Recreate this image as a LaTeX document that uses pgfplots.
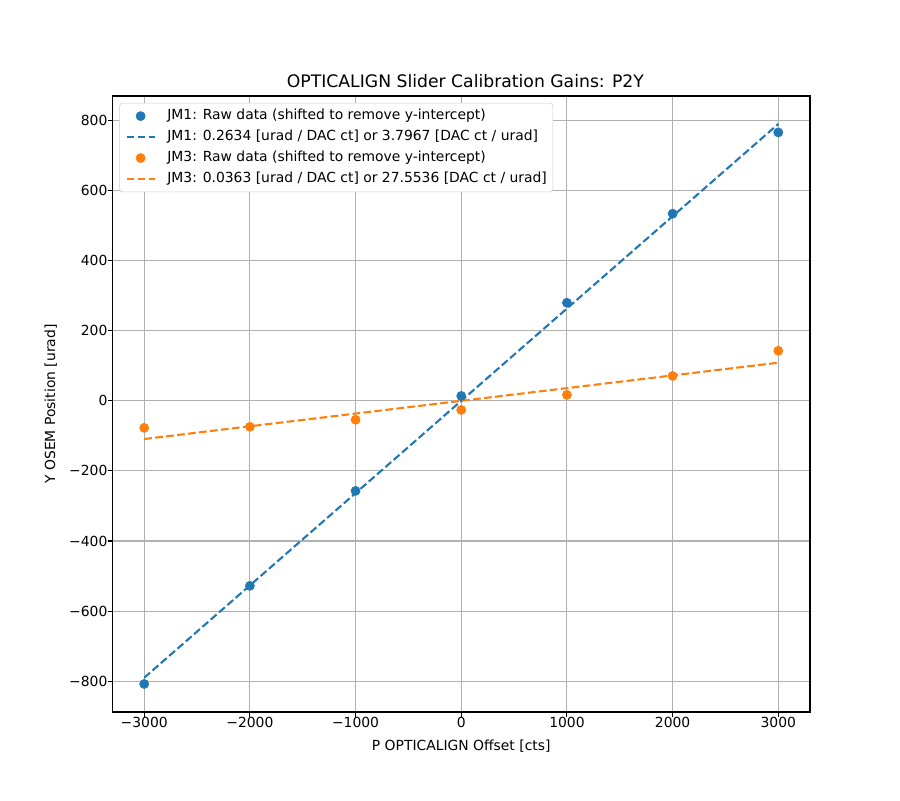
\documentclass[border=0pt]{standalone}
\usepackage{fontspec}
\setmainfont{DejaVu Sans}
\usepackage{pgfplots}
\pgfplotsset{compat=1.18}
\definecolor{tabblue}{HTML}{1F77B4}
\definecolor{taborange}{HTML}{FF7F0E}
\definecolor{gridgray}{HTML}{B0B0B0}
\definecolor{legframe}{HTML}{CCCCCC}
\pgfplotsset{
 scatleg/.style={legend image code/.code={\draw[##1] plot coordinates {(10pt,0pt)};}},
 lineleg/.style={legend image code/.code={\draw[##1] (0pt,0pt) -- (20pt,0pt);}},
}
\begin{document}
\begin{tikzpicture}
\useasboundingbox (-81pt,-63.36pt) rectangle (567pt,512.64pt);
\begin{axis}[
 at={(0,0)}, anchor=south west,
 scale only axis, width=502.2pt, height=443.52pt,
 xmin=-3300, xmax=3300, ymin=-888, ymax=870,
 xtick={-3000,-2000,...,3000},
 xticklabels={−3000,−2000,−1000,0,1000,2000,3000},
 ytick={-800,-600,...,800},
 yticklabels={−800,−600,−400,−200,0,200,400,600,800},
 tick pos=left,
 tick align=outside, major tick length=3.5pt,
 every tick/.style={black, line width=0.8pt},
 axis line style={line width=0.8pt},
 grid=major, major grid style={gridgray, line width=0.8pt},
 tick label style={font=\fontsize{10}{12}\selectfont},
 xticklabel style={anchor=north, inner sep=0pt},
 yticklabel style={anchor=east, inner sep=0pt},
 label style={font=\fontsize{10}{12}\selectfont},
 title style={font=\fontsize{12.4}{14}\selectfont, at={(axis description cs:0.5,1)}, anchor=base, xshift=3pt},
 title={OPTICALIGN Slider Calibration Gains: P2Y},
 xlabel={P OPTICALIGN Offset [cts]},
 xlabel style={at={(axis description cs:0.5,-0.0618)}, anchor=base},
 ylabel={Y OSEM Position [urad]},
 ylabel style={at={(axis description cs:-0.0824,0.5)}, anchor=base},
 legend cell align=left,
 legend style={at={(axis description cs:0,1)}, anchor=north west, xshift=5pt, yshift=-5pt,
   draw=legframe, fill=white, rounded corners=2pt,
   font=\fontsize{10}{12}\selectfont, inner sep=4.3pt, row sep=5.1pt,
   nodes={inner sep=0pt, text height=7.6pt, text depth=2.4pt, anchor=west},
   /tikz/every odd column/.append style={column sep=8.5pt}},
]
\addlegendimage{only marks, mark=*, mark size=3.3pt, tabblue, scatleg}
\addlegendentry{JM1: Raw data (shifted to remove y-intercept)}
\addlegendimage{tabblue, line width=1.5pt, dash pattern=on 5.55pt off 2.4pt, lineleg}
\addlegendentry{JM1: 0.2634 [urad / DAC ct] or 3.7967 [DAC ct / urad]}
\addlegendimage{only marks, mark=*, mark size=3.3pt, taborange, scatleg}
\addlegendentry{JM3: Raw data (shifted to remove y-intercept)}
\addlegendimage{taborange, line width=1.5pt, dash pattern=on 5.55pt off 2.4pt, lineleg}
\addlegendentry{JM3: 0.0363 [urad / DAC ct] or 27.5536 [DAC ct / urad]}

\addplot[forget plot, only marks, mark=*, mark size=3.3pt, tabblue] coordinates {
 (-3000,-808) (-2000,-528) (-1000,-257) (0,14) (1000,280) (2000,534) (3000,766)};
\addplot[forget plot, only marks, mark=*, mark size=3.3pt, taborange] coordinates {
 (-3000,-77) (-2000,-74) (-1000,-54) (0,-26) (1000,17) (2000,71) (3000,143)};
\addplot[forget plot, tabblue, line width=1.5pt, dash pattern=on 5.55pt off 2.4pt] coordinates {
 (-3000,-790.2) (3000,790.2)};
\addplot[forget plot, taborange, line width=1.5pt, dash pattern=on 5.55pt off 2.4pt] coordinates {
 (-3000,-108.9) (3000,108.9)};
\end{axis}
\end{tikzpicture}
\end{document}
